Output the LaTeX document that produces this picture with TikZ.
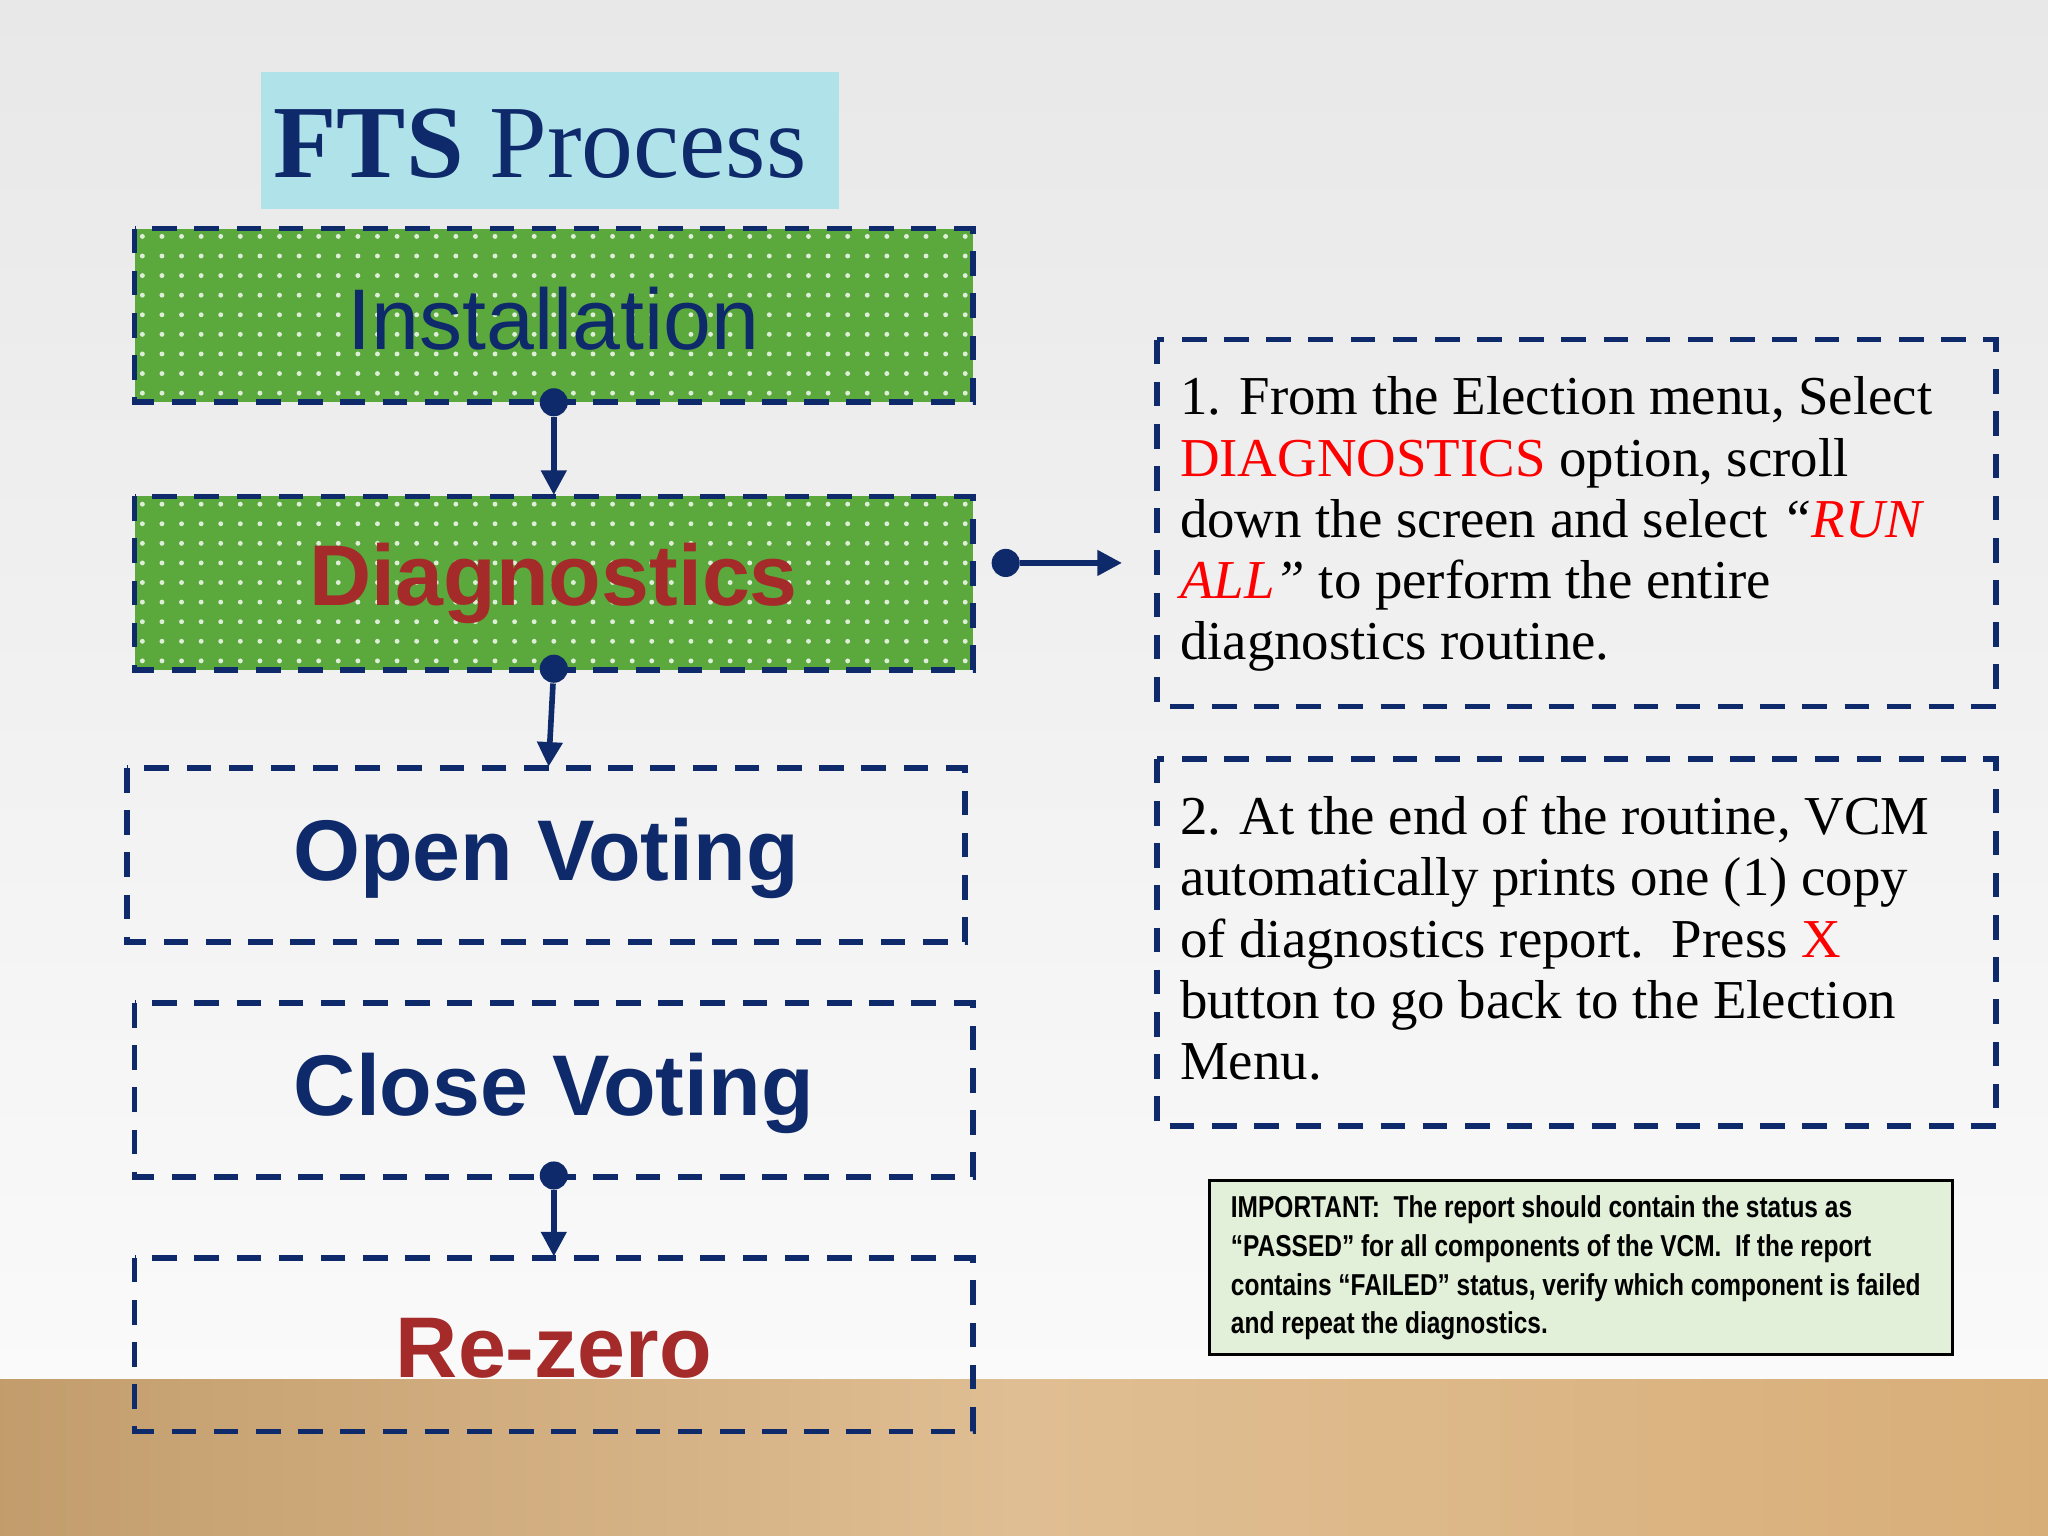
\documentclass[tikz,border=0pt]{standalone}
\usepackage{fontspec}
\setmainfont{Liberation Serif}
\setsansfont{Liberation Sans}
\usetikzlibrary{arrows.meta}
\definecolor{navy}{HTML}{0F2A6B}
\definecolor{grn}{HTML}{5BA83C}
\definecolor{darkred}{HTML}{A52A2A}
\definecolor{cy}{HTML}{B0E2EA}
\definecolor{wood}{HTML}{D8AE78}
\definecolor{lg}{HTML}{E2F0D9}
\tikzset{
 stepbox/.style={draw=navy,line width=1.6pt,dash pattern=on 7pt off 5pt},
 lbl/.style={font=\sffamily\bfseries\fontsize{24.5}{28}\selectfont},
 conn/.style={navy,line width=1.6pt,-{Triangle[length=7pt,width=7pt]}},
 dotc/.style={circle,fill=navy,inner sep=0pt,minimum size=8pt},
 txt/.style={font=\fontsize{15.6}{17.4}\selectfont,align=left,anchor=north west,inner sep=0pt}
}
\newcommand{\greenrect}[4]{%
 \fill[grn] (#1,#2) rectangle (#3,#4);
 \begin{scope}
 \clip (#1,#2) rectangle (#3,#4);
 \foreach \xx in {0,15,...,660}{\foreach \yy in {0,15,...,135}{
   \fill[white!80!grn] ({#1+6+\xx},{#2+6+\yy}) circle (0.7pt);}}
 \end{scope}
 \draw[stepbox] (#1,#2) rectangle (#3,#4);}
\begin{document}
\begin{tikzpicture}[x=0.013061cm,y=-0.013061cm]
\useasboundingbox (0,0) rectangle (1568,1176);
\shade[top color=gray!18,bottom color=white!96!gray] (0,0) rectangle (1568,1056);
\shade[left color=wood!90!black,right color=wood,middle color=wood!80!white] (0,1056) rectangle (1568,1176);
% title
\fill[cy] (200,55) rectangle (642,160);
\node[anchor=west,text=navy,font=\fontsize{29.5}{32}\selectfont] (title) at (200,110) {\textbf{FTS} Process};
% boxes
\greenrect{103}{175}{745}{308}
\node[font=\sffamily\fontsize{24.5}{28}\selectfont,text=navy] (inst) at (424,244) {Installation};
\greenrect{103}{380}{745}{513}
\node[lbl,text=darkred] (diag) at (424,447) {Diagnostics};
\draw[stepbox] (97,588) rectangle (739,721);
\node[lbl,text=navy] (open) at (418,657) {Open Voting};
\draw[stepbox] (103,768) rectangle (745,901);
\node[lbl,text=navy] (close) at (424,837) {Close Voting};
\draw[stepbox] (103,963) rectangle (745,1096);
\node[lbl,text=darkred] (rez) at (424,1032) {Re-zero};
% connectors
\node[dotc] (d1) at (424,308) {}; \coordinate (e1) at (424,379);
\draw[conn] (d1) -- (e1);
\node[dotc] (d2) at (424,512) {}; \coordinate (e2) at (420,587);
\draw[conn] (d2) -- (e2);
\node[dotc] (d3) at (424,900) {}; \coordinate (e3) at (424,962);
\draw[conn] (d3) -- (e3);
\node[dotc] (d4) at (770,431) {}; \coordinate (e4) at (859,431);
\draw[conn] (d4) -- (e4);
% right boxes
\draw[stepbox] (886,260) rectangle (1528,541);
\node[txt] (t1) at (903,288) {1. From the Election menu, Select\\
\textcolor{red}{DIAGNOSTICS} option, scroll\\
down the screen and select \textit{``\textcolor{red}{RUN}}\\
\textit{\textcolor{red}{ALL}''} to perform the entire\\
diagnostics routine.};
\draw[stepbox] (886,581) rectangle (1528,862);
\node[txt] (t2) at (903,609) {2. At the end of the routine, VCM\\
automatically prints one (1) copy\\
of diagnostics report.\ \ Press \textcolor{red}{X}\\
button to go back to the Election\\
Menu.};
% important
\draw[fill=lg,draw=black,line width=1pt] (926,904) rectangle (1495,1037);
\node[anchor=north west,inner sep=0pt,align=left,xscale=0.81,font=\sffamily\bfseries\fontsize{8.6}{11}\selectfont] (imp) at (942,915) {IMPORTANT:\ \ The report should contain the status as\\
``PASSED'' for all components of the VCM.\ \ If the report\\
contains ``FAILED'' status, verify which component is failed\\
and repeat the diagnostics.};
\end{tikzpicture}
\end{document}
